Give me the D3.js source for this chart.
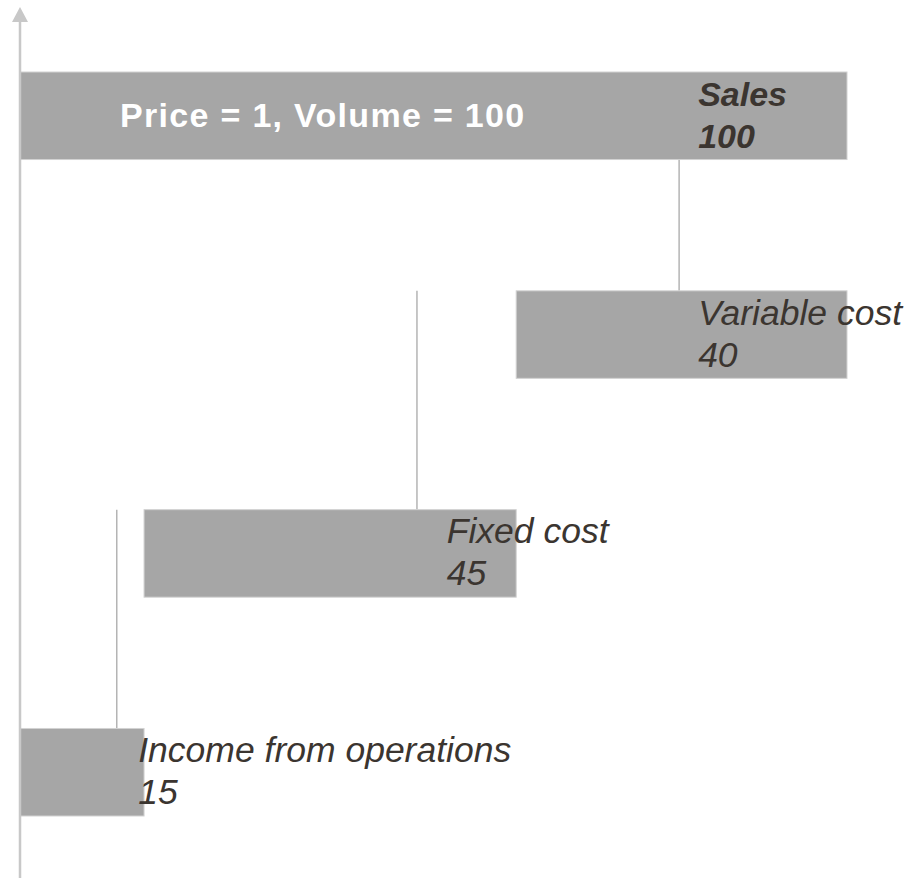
<!DOCTYPE html>
<html>
<head>
<meta charset="utf-8">
<script src="https://cdn.jsdelivr.net/npm/d3@7"></script>
<style>
  html, body { margin: 0; padding: 0; background: #fff; }
  svg { display: block; font-family: "Liberation Sans", Arial, sans-serif; }
</style>
</head>
<body>
<svg id="chart" width="908" height="878"></svg>
<script>
// waterfall: sales -> income from operations
const categories = ['Sales', 'Variable cost', 'Fixed cost', 'Income from operations'];
const values = [100, 40, 45, 15];
const kinds = ['total', 'decrease', 'decrease', 'total'];
const valueLabels = ['100', '40', '45', '15'];
// where the label text and the connector line sit, in value units
const labelAt = [82, 82, 51.6, 14.3];
const connectorAt = [null, 79.7, 48, 11.7];
const title = 'Price = 1, Volume = 100';

const svg = d3.select('#chart');

const x = d3.scaleLinear().domain([0, 100]).range([20, 847]);
const y = d3.scaleBand().domain(categories).range([72, 816]).paddingInner(0.6).paddingOuter(0);

// running totals for the waterfall
let running = 0;
const rows = categories.map((name, i) => {
  let start, end;
  if (kinds[i] === 'total') {
    start = 0; end = values[i]; running = values[i];
  } else {
    end = running; start = running - values[i]; running = start;
  }
  return { name, start, end, label: valueLabels[i], at: labelAt[i], conn: connectorAt[i], i };
});

// connectors (behind bars): from previous row top to this row top
svg.append('g')
  .selectAll('line')
  .data(rows.filter(d => d.conn != null))
  .join('line')
  .attr('x1', d => x(d.conn))
  .attr('x2', d => x(d.conn))
  .attr('y1', d => y(categories[d.i - 1]))
  .attr('y2', d => y(d.name))
  .attr('stroke', '#b4b4b4')
  .attr('stroke-width', 1.5);

svg.append('g')
  .selectAll('rect')
  .data(rows)
  .join('rect')
  .attr('x', d => x(d.start))
  .attr('y', d => y(d.name))
  .attr('width', d => x(d.end) - x(d.start))
  .attr('height', y.bandwidth())
  .attr('fill', '#a6a6a6')
  .attr('stroke', '#d2d2d2')
  .attr('stroke-width', 1);

// axis with arrow
const axis = svg.append('g');
axis.append('line')
  .attr('x1', x(0)).attr('x2', x(0))
  .attr('y1', 878).attr('y2', 20)
  .attr('stroke', '#c8c8c8')
  .attr('stroke-width', 2.5);
axis.append('path')
  .attr('d', `M${x(0) - 8},22 L${x(0)},7 L${x(0) + 8},22 Z`)
  .attr('fill', '#c8c8c8');

// labels
const labels = svg.append('g')
  .selectAll('text')
  .data(rows)
  .join('text')
  .attr('x', d => x(d.at))
  .attr('y', d => y(d.name) + y.bandwidth() / 2 - 10)
  .attr('fill', '#3b3530')
  .attr('font-size', d => d.i === 0 ? 34 : 35.5)
  .attr('font-style', 'italic')
  .attr('font-weight', d => d.i === 0 ? 'bold' : 'normal');
labels.append('tspan').text(d => d.name);
labels.append('tspan')
  .attr('x', d => x(d.at))
  .attr('dy', 42)
  .text(d => d.label);

svg.append('text')
  .attr('x', x(12.1))
  .attr('y', y(categories[0]) + y.bandwidth() / 2 + 11)
  .attr('fill', '#fff')
  .attr('font-size', 34)
  .attr('font-weight', 'bold')
  .attr('letter-spacing', 1.3)
  .text(title);
</script>
</body>
</html>
